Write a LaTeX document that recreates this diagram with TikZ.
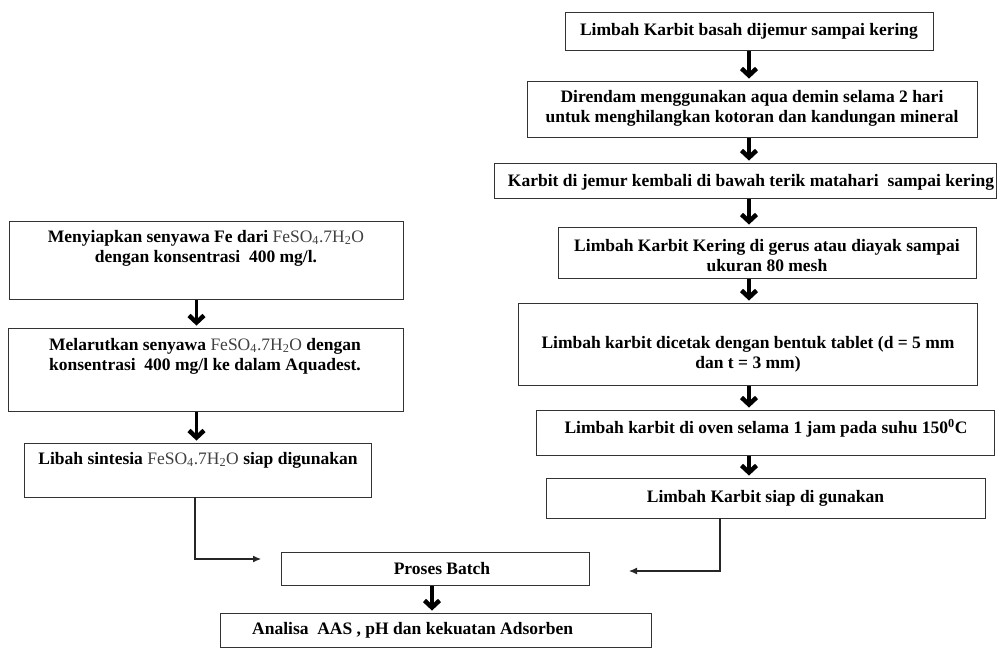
\documentclass[tikz,border=0pt]{standalone}
\usepackage{fontspec}
\setmainfont{Liberation Serif}
\usetikzlibrary{arrows.meta}
\newcommand{\fesoc}{{\mdseries\color{black!75}FeSO\textsubscript{4}.7H\textsubscript{2}O}}
\begin{document}
\begin{tikzpicture}[x=1pt,y=-1pt,
  box/.style={draw=black!80, line width=0.9pt, rectangle, inner sep=0pt},
  txt/.style={font=\bfseries\fontsize{17.5}{20}\selectfont, align=center, inner sep=0pt},
  flow/.style={line width=3.5pt, shorten <=1pt, shorten >=2pt, -{Straight Barb[length=7pt,width=15pt,line width=4.5pt]}},
  link/.style={line width=1.1pt, draw=black!85, -{Latex[length=8pt,width=7pt]}}]
\useasboundingbox (0,0) rectangle (1002,648);
% column coordinates
\coordinate (colL) at (196.5,0);
\coordinate (colR) at (749,0);
\coordinate (colB) at (432,0);
\coordinate (dropL) at (195,0);
\coordinate (dropR) at (720,0);
\coordinate (endL) at (261,559);
\coordinate (endR) at (629,571);
% left boxes
\node[box, minimum width=394pt, minimum height=78pt] (l1) at (206,260) {};
\node[txt] (l1t) at (206,248) {Menyiapkan senyawa Fe dari \fesoc\\dengan konsentrasi~ 400 mg/l.};
\node[box, minimum width=395pt, minimum height=83pt] (l2) at (205.5,369.5) {};
\node[txt] (l2t) at (205,356) {Melarutkan senyawa \fesoc{} dengan\\konsentrasi~ 400 mg/l ke dalam Aquadest.};
\node[box, minimum width=347pt, minimum height=54pt] (l3) at (197.5,470) {};
\node[txt] (l3t) at (198,460) {Libah sintesia \fesoc{} siap digunakan};
% right boxes
\node[box, minimum width=368pt, minimum height=38pt] (r1) at (749,31) {};
\node[txt] (r1t) at (749,31) {Limbah Karbit basah dijemur sampai kering};
\node[box, minimum width=450pt, minimum height=56pt] (r2) at (752,109) {};
\node[txt] (r2t) at (752,108) {Direndam menggunakan aqua demin selama 2 hari\\untuk menghilangkan kotoran dan kandungan mineral};
\node[box, minimum width=502pt, minimum height=35pt] (r3) at (745,180.5) {};
\node[txt] (r3t) at (751,182) {Karbit di jemur kembali di bawah terik matahari~ sampai kering};
\node[box, minimum width=418pt, minimum height=51pt] (r4) at (767,252.5) {};
\node[txt] (r4t) at (767,256) {Limbah Karbit Kering di gerus atau diayak sampai\\ukuran 80 mesh};
\node[box, minimum width=459pt, minimum height=82pt] (r5) at (747.5,344) {};
\node[txt] (r5t) at (748,354) {Limbah karbit dicetak dengan bentuk tablet (d = 5 mm\\dan t = 3 mm)};
\node[box, minimum width=458pt, minimum height=45pt] (r6) at (765,432.5) {};
\node[txt] (r6t) at (766,428) {Limbah karbit di oven selama 1 jam pada suhu 150\textsuperscript{0}C};
\node[box, minimum width=439pt, minimum height=40pt] (r7) at (765.5,498) {};
\node[txt] (r7t) at (765.5,498) {Limbah Karbit siap di gunakan};
% bottom boxes
\node[box, minimum width=308pt, minimum height=33pt] (pb) at (435,568.5) {};
\node[txt] (pbt) at (442,569) {Proses Batch};
\node[box, minimum width=431pt, minimum height=34pt] (an) at (435.5,630) {};
\node[txt, anchor=west] (ant) at (252,630) {Analisa~ AAS , pH dan kekuatan Adsorben};
% flow arrows
\draw[flow] (l1.south -| colL) -- (l2.north -| colL);
\draw[flow] (l2.south -| colL) -- (l3.north -| colL);
\draw[flow] (r1.south -| colR) -- (r2.north -| colR);
\draw[flow] (r2.south -| colR) -- (r3.north -| colR);
\draw[flow] (r3.south -| colR) -- (r4.north -| colR);
\draw[flow] (r4.south -| colR) -- (r5.north -| colR);
\draw[flow] (r5.south -| colR) -- (r6.north -| colR);
\draw[flow] (r6.south -| colR) -- (r7.north -| colR);
\draw[flow] (pb.south -| colB) -- (an.north -| colB);
% links to batch
\draw[link] (l3.south -| dropL) |- (endL);
\draw[link] (r7.south -| dropR) |- (endR);
\end{tikzpicture}
\end{document}
